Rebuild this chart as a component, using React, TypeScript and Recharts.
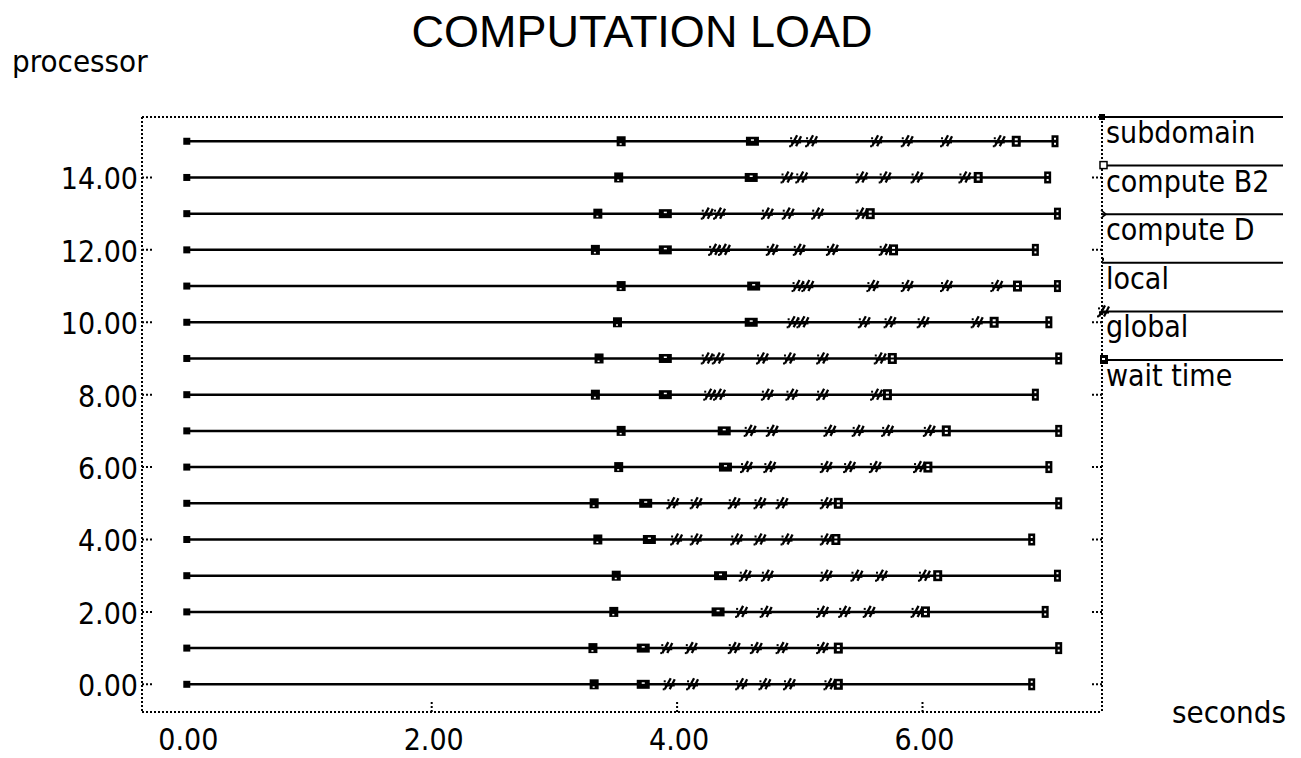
import React from 'react';
import { ScatterChart, Scatter, XAxis, YAxis, Legend } from 'recharts';

const FONT = "'DejaVu Sans Condensed', 'DejaVu Sans', sans-serif";
const TITLE_FONT = "'Liberation Sans', Arial, sans-serif";

// ---- data ----
const chartTitle = 'COMPUTATION LOAD';
const yAxisTitle = 'processor';
const xAxisTitle = 'seconds';
const xTicks = [0, 2, 4, 6];
const xInnerTicks = [2, 4, 6];
const yTicks = [0, 2, 4, 6, 8, 10, 12, 14];
const xDomain = [-0.361, 7.463];
const yDomain = [-0.765, 15.67];
const legendLabels = ['subdomain', 'compute B2', 'compute D', 'local', 'global', 'wait time'];
// event kind by position in each processor's time list
const eventKinds = ['start', 'subdomain', 'computeB2', 'global', 'global', 'global', 'global', 'global', 'global', 'local', 'end'];

const proc0 = [0, 3.32, 3.72, 3.94, 4.13, 4.53, 4.72, 4.92, 5.25, 5.31, 6.89];
const proc1 = [0, 3.31, 3.72, 3.92, 4.12, 4.47, 4.65, 4.86, 5.19, 5.31, 7.11];
const proc2 = [0, 3.48, 4.33, 4.53, 4.73, 5.19, 5.37, 5.57, 5.96, 6.02, 7.0];
const proc3 = [0, 3.5, 4.35, 4.56, 4.74, 5.22, 5.47, 5.67, 6.02, 6.12, 7.1];
const proc4 = [0, 3.35, 3.77, 4.0, 4.16, 4.49, 4.68, 4.9, 5.22, 5.29, 6.89];
const proc5 = [0, 3.32, 3.74, 3.97, 4.16, 4.47, 4.68, 4.86, 5.22, 5.31, 7.11];
const proc6 = [0, 3.52, 4.39, 4.57, 4.76, 5.22, 5.41, 5.62, 5.98, 6.04, 7.03];
const proc7 = [0, 3.54, 4.38, 4.6, 4.78, 5.25, 5.48, 5.72, 6.06, 6.19, 7.11];
const proc8 = [0, 3.33, 3.9, 4.27, 4.35, 4.74, 4.94, 5.19, 5.63, 5.71, 6.92];
const proc9 = [0, 3.36, 3.9, 4.25, 4.34, 4.7, 4.92, 5.19, 5.66, 5.75, 7.11];
const proc10 = [0, 3.51, 4.6, 4.95, 5.03, 5.53, 5.74, 6.01, 6.45, 6.58, 7.03];
const proc11 = [0, 3.54, 4.62, 4.99, 5.07, 5.6, 5.88, 6.2, 6.61, 6.77, 7.1];
const proc12 = [0, 3.33, 3.9, 4.31, 4.39, 4.78, 5.0, 5.27, 5.7, 5.76, 6.92];
const proc13 = [0, 3.35, 3.9, 4.25, 4.35, 4.74, 4.91, 5.15, 5.51, 5.57, 7.1];
const proc14 = [0, 3.52, 4.6, 4.9, 5.02, 5.51, 5.7, 5.96, 6.35, 6.45, 7.02];
const proc15 = [0, 3.54, 4.61, 4.97, 5.1, 5.63, 5.88, 6.2, 6.63, 6.76, 7.08];

const processorTimes = [
  proc0, proc1, proc2, proc3, proc4, proc5, proc6, proc7,
  proc8, proc9, proc10, proc11, proc12, proc13, proc14, proc15,
];

// ---- rendering helpers ----
const dotted = { stroke: '#000', strokeWidth: 2, strokeDasharray: '2 2' };

const GlyphMark = ({ cx, cy }: { cx: number; cy: number }) => (
  <g stroke="#000" strokeWidth={2.3} fill="none">
    <path d={`M${cx - 5} ${cy + 5} L${cx + 1} ${cy - 6}`} />
    <path d={`M${cx} ${cy + 5} L${cx + 5} ${cy - 5}`} />
    <path d={`M${cx - 5} ${cy + 1} L${cx + 5} ${cy + 1}`} />
    <rect x={cx - 7} y={cy + 4} width={2} height={2} fill="#000" stroke="none" />
    <rect x={cx - 6} y={cy - 4} width={2} height={2} fill="#000" stroke="none" />
  </g>
);

const renderMarker = (props: any) => {
  const { cx, cy } = props;
  if (cx == null || cy == null) return <g />;
  const idx = props.payload?.i ?? props.i ?? 0;
  const kind = eventKinds[idx];
  switch (kind) {
    case 'start':
      return <rect x={cx - 3} y={cy - 3.5} width={7} height={7} fill="#000" />;
    case 'subdomain':
      return (
        <g>
          <rect x={cx - 4} y={cy - 5} width={9} height={10} fill="#000" />
          <rect x={cx - 1} y={cy + 2} width={2} height={1.5} fill="#fff" />
        </g>
      );
    case 'computeB2':
      return (
        <g>
          <rect x={cx - 6} y={cy - 4.5} width={13} height={9} fill="#000" />
          <rect x={cx - 1} y={cy - 2} width={3} height={1.5} fill="#fff" />
        </g>
      );
    case 'global':
      return <GlyphMark cx={cx} cy={cy} />;
    case 'local':
      return (
        <g>
          <rect x={cx - 4} y={cy - 5.5} width={9} height={11} fill="#000" />
          <rect x={cx - 1} y={cy - 3} width={3} height={2} fill="#fff" />
          <rect x={cx - 1} y={cy + 1} width={3} height={2} fill="#fff" />
        </g>
      );
    default:
      return (
        <g>
          <rect x={cx - 3.5} y={cy - 6} width={7} height={12} fill="#000" />
          <rect x={cx - 1} y={cy - 3.5} width={2} height={2} fill="#fff" />
          <rect x={cx - 1} y={cy + 1.5} width={2} height={2} fill="#fff" />
        </g>
      );
  }
};

const BottomTick = (props: any) => {
  const { x, y, payload } = props;
  return (
    <g>
      {payload.value !== 0 && (
        <line x1={x} x2={x} y1={y} y2={y - 11} stroke="#000" strokeWidth={2} strokeDasharray="2 2" />
      )}
      <text x={x + 2} y={y + 38} textAnchor="middle" fontFamily={FONT} fontSize={30} fill="#000">
        {Number(payload.value).toFixed(2)}
      </text>
    </g>
  );
};

const LeftTick = (props: any) => {
  const { x, y, payload } = props;
  return (
    <g>
      <line x1={x} x2={x + 11} y1={y} y2={y} stroke="#000" strokeWidth={2} strokeDasharray="2 2" />
      <text x={x - 4} y={y + 12} textAnchor="end" fontFamily={FONT} fontSize={30} fill="#000">
        {Number(payload.value).toFixed(2)}
      </text>
    </g>
  );
};

const TopTick = (props: any) => {
  const { x, y } = props;
  return <line x1={x} x2={x} y1={y} y2={y + 11} stroke="#000" strokeWidth={2} strokeDasharray="2 2" />;
};

const RightTick = (props: any) => {
  const { x, y } = props;
  return <line x1={x} x2={x - 11} y1={y} y2={y} stroke="#000" strokeWidth={2} strokeDasharray="2 2" />;
};

const LegendMarker = ({ idx, x, y }: { idx: number; x: number; y: number }) => {
  switch (idx) {
    case 0:
      return <rect x={x - 3} y={y - 3} width={6} height={6} fill="#000" />;
    case 1:
      return <rect x={x - 2} y={y - 4} width={7} height={7} fill="#fff" stroke="#000" strokeWidth={1.5} />;
    case 2:
      return <path d={`M${x - 1} ${y - 4} L${x + 4} ${y} L${x - 1} ${y + 4}`} fill="none" stroke="#000" strokeWidth={1.5} />;
    case 3:
      return <rect x={x} y={y - 5} width={2} height={3} fill="#000" />;
    case 4:
      return <GlyphMark cx={x + 2} cy={y} />;
    default:
      return (
        <g>
          <rect x={x - 2} y={y - 5} width={8} height={9} fill="#000" />
          <rect x={x} y={y - 2} width={3} height={2} fill="#fff" />
        </g>
      );
  }
};

const LegendContent = () => (
  <svg width={211} height={300} style={{ display: 'block', overflow: 'visible' }}>
    {legendLabels.map((label, k) => {
      const ly = 12 + k * 48.6;
      return (
        <g key={label}>
          <line x1={12} x2={193} y1={ly} y2={ly} stroke="#000" strokeWidth={2} />
          <LegendMarker idx={k} x={12} y={ly} />
          <text x={16} y={ly + 26} fontFamily={FONT} fontSize={30} fill="#000">
            {label}
          </text>
        </g>
      );
    })}
  </svg>
);

export default function App() {
  return (
    <div style={{ position: 'absolute', left: 0, top: 0, width: 1301, height: 758, background: '#fff' }}>
      <ScatterChart
        width={1301}
        height={758}
        margin={{ top: 107, right: 189, bottom: 16, left: 82 }}
      >
        <XAxis
          xAxisId="b"
          type="number"
          dataKey="t"
          domain={xDomain}
          allowDataOverflow
          ticks={xTicks}
          interval={0}
          height={30}
          tickSize={0}
          tickMargin={0}
          axisLine={dotted}
          tickLine={false}
          tick={<BottomTick />}
        />
        <XAxis
          xAxisId="t"
          orientation="top"
          type="number"
          domain={xDomain}
          allowDataOverflow
          ticks={xInnerTicks}
          interval={0}
          height={10}
          tickSize={0}
          tickMargin={0}
          axisLine={dotted}
          tickLine={false}
          tick={<TopTick />}
        />
        <YAxis
          yAxisId="l"
          type="number"
          dataKey="p"
          domain={yDomain}
          allowDataOverflow
          ticks={yTicks}
          interval={0}
          width={60}
          tickSize={0}
          tickMargin={0}
          axisLine={dotted}
          tickLine={false}
          tick={<LeftTick />}
        />
        <YAxis
          yAxisId="r"
          orientation="right"
          type="number"
          domain={yDomain}
          allowDataOverflow
          ticks={yTicks}
          interval={0}
          width={10}
          tickSize={0}
          tickMargin={0}
          axisLine={dotted}
          tickLine={false}
          tick={<RightTick />}
        />
        <Legend
          layout="vertical"
          align="center"
          verticalAlign="middle"
          content={<LegendContent />}
          wrapperStyle={{ left: 1090, top: 105, width: 211, height: 300 }}
        />
        {processorTimes.map((times, p) => (
          <Scatter
            key={p}
            name={`processor ${p}`}
            xAxisId="b"
            yAxisId="l"
            data={times.map((t, i) => ({ t, p, i }))}
            line={{ stroke: '#000', strokeWidth: 2.5 }}
            lineType="joint"
            shape={renderMarker}
            isAnimationActive={false}
          />
        ))}
      </ScatterChart>
      <svg
        width={1301}
        height={758}
        style={{ position: 'absolute', left: 0, top: 0, pointerEvents: 'none' }}
      >
        <text x={642} y={47} textAnchor="middle" fontFamily={TITLE_FONT} fontSize={45} fill="#000">
          {chartTitle}
        </text>
        <text x={12} y={72} fontFamily={FONT} fontSize={31} fill="#000">
          {yAxisTitle}
        </text>
        <text x={1172} y={723} fontFamily={FONT} fontSize={31} fill="#000">
          {xAxisTitle}
        </text>
      </svg>
    </div>
  );
}
